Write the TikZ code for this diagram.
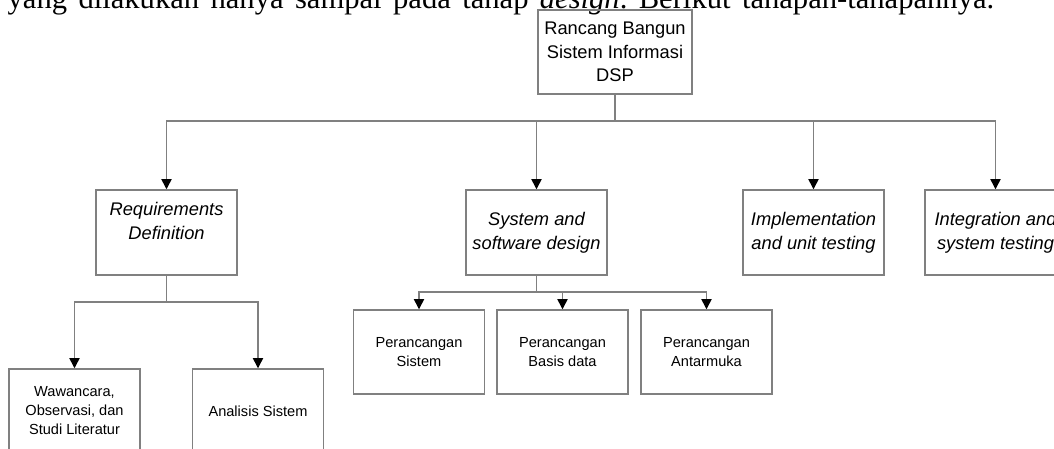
\documentclass[tikz,border=0pt]{standalone}
\usepackage{fontspec}
\newfontfamily\diagfont{Liberation Sans}
\newfontfamily\parafont{Liberation Serif}
\usetikzlibrary{arrows.meta}
\definecolor{edgegray}{RGB}{128,128,128}
\begin{document}
\frenchspacing
\begin{tikzpicture}[x=0.01cm,y=-0.01cm,
  box/.style={draw=edgegray, line width=0.4pt, align=center, inner sep=0pt, font=\diagfont\fontsize{5.2}{6.7}\selectfont},
  phase/.style={box, font=\diagfont\itshape\fontsize{5.2}{6.8}\selectfont, minimum width=1.41cm, minimum height=0.85cm},
  leaf/.style={box, font=\diagfont\fontsize{4.15}{5.4}\selectfont, minimum width=1.31cm, minimum height=0.84cm},
  link/.style={draw=edgegray, line width=0.4pt},
  arr/.style={-{Triangle[width=2.9pt,length=2.9pt,color=black]}}]
\useasboundingbox (0,0) rectangle (1054,448);\clip (0,0) rectangle (1054,448);
% paragraph line cut off at the top
\node[anchor=base west, inner sep=0pt, font=\parafont\fontsize{8.7}{10}\selectfont] (para) at (7,8) {\makebox[9.86cm][s]{yang dilakukan hanya sampai pada tahap \textit{design}. Berikut tahapan-tahapannya.}};
% boxes
\node[box, minimum width=1.54cm, minimum height=0.84cm] (top) at (615,52) {Rancang Bangun\\Sistem Informasi\\DSP};
\node[phase] (req) at (166.5,232.5) {Requirements\\Definition\\\mbox{}};\node[phase] (sys) at (536.5,232.5) {System and\\software design};
\node[phase] (imp) at (813.5,232.5) {Implementation\\and unit testing};\node[phase] (itg) at (995.5,232.5) {Integration and\\system testing};
\node[leaf] (ww) at (74.5,411) {Wawancara,\\Observasi, dan\\Studi Literatur};\node[leaf] (an) at (258,411) {Analisis Sistem};
\node[leaf] (ps) at (419,352) {Perancangan\\Sistem};\node[leaf] (pb) at (562.5,352) {Perancangan\\Basis data};\node[leaf] (pa) at (706.5,352) {Perancangan\\Antarmuka};
% connectors
\coordinate (j0) at (615,121);\coordinate (j1) at (166.5,302);\coordinate (j2) at (536.5,292);
\draw[link] (top) -- (j0);\foreach \n in {req,sys,imp,itg} {\draw[link,arr] (j0) -| (\n);}
\draw[link] (req) -- (j1);\foreach \n in {ww,an} {\draw[link,arr] (j1) -| (\n);}
\draw[link] (sys) -- (j2);\foreach \n in {ps,pb,pa} {\draw[link,arr] (j2) -| (\n);}
\end{tikzpicture}
\end{document}
